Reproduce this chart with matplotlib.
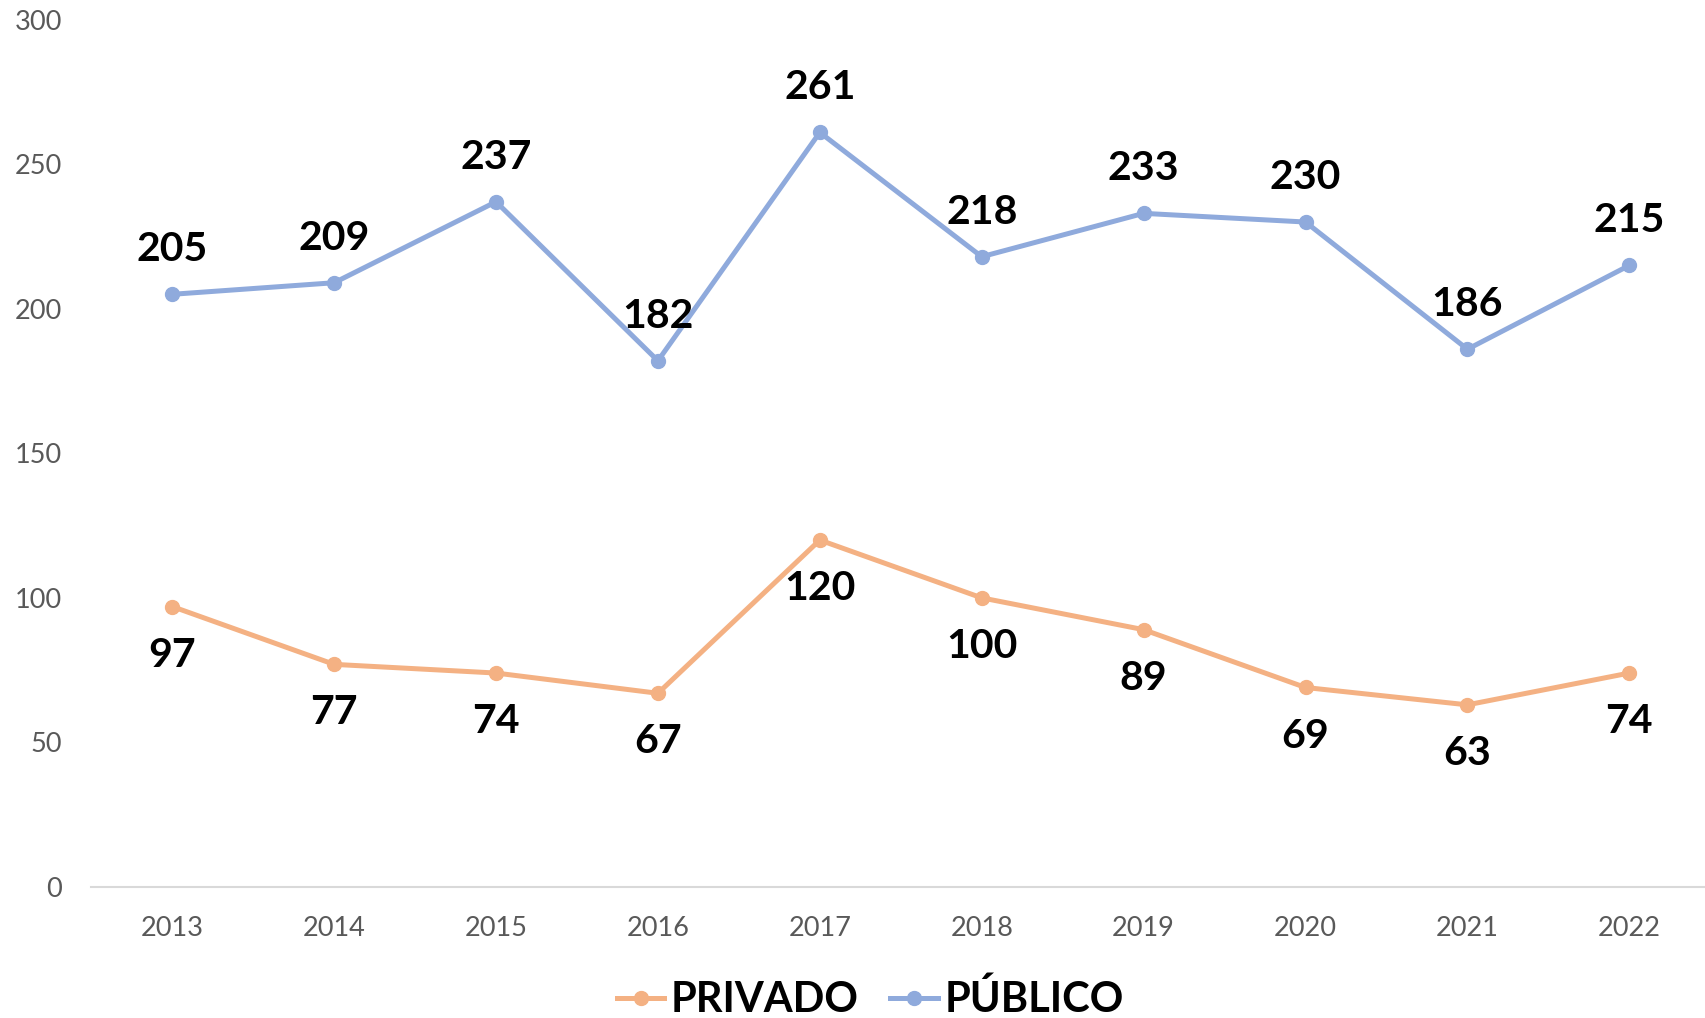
import matplotlib.pyplot as plt
from matplotlib.lines import Line2D

years = ['2013', '2014', '2015', '2016', '2017', '2018', '2019', '2020', '2021', '2022']
publico = [205, 209, 237, 182, 261, 218, 233, 230, 186, 215]
privado = [97, 77, 74, 67, 120, 100, 89, 69, 63, 74]

c_pub = '#8FAADC'
c_priv = '#F4B183'

plt.rcParams['font.family'] = ['Lato', 'DejaVu Sans']

fig = plt.figure(figsize=(17.06, 10.18), dpi=100)
ax = fig.add_axes([0.0535, 0.1287, 0.949, 0.852])

x = list(range(len(years)))
ax.plot(x, privado, color=c_priv, lw=3.6, marker='o', ms=10, solid_capstyle='round', label='PRIVADO')
ax.plot(x, publico, color=c_pub, lw=3.6, marker='o', ms=10, solid_capstyle='round', label='PÚBLICO')

for xi, v in zip(x, publico):
    ax.annotate(str(v), (xi, v), xytext=(0, 32), textcoords='offset points',
                ha='center', va='center', fontsize=29.5, fontweight='bold', color='black')
for xi, v in zip(x, privado):
    ax.annotate(str(v), (xi, v), xytext=(0, -35), textcoords='offset points',
                ha='center', va='center', fontsize=29.5, fontweight='bold', color='black')

ax.set_xlim(-0.5, 9.5)
ax.set_ylim(0, 300)
ax.set_yticks(range(0, 301, 50))
ax.set_xticks(x)
ax.set_xticklabels(years)
ax.tick_params(axis='both', length=0, labelsize=19.5, labelcolor='#595959')
ax.tick_params(axis='x', pad=21)
ax.tick_params(axis='y', pad=21)
for lab in ax.get_yticklabels():
    lab.set_horizontalalignment('right')

for s in ['left', 'right', 'top']:
    ax.spines[s].set_visible(False)
ax.spines['bottom'].set_color('#D9D9D9')
ax.spines['bottom'].set_linewidth(1.5)

handles = [Line2D([], [], color=c_priv, lw=3.6, marker='o', ms=10),
           Line2D([], [], color=c_pub, lw=3.6, marker='o', ms=10)]
fig.legend(handles, ['PRIVADO', 'PÚBLICO'], loc='center', bbox_to_anchor=(0.51, 0.018),
           ncol=2, frameon=False, prop={'size': 30, 'weight': 'bold'},
           handlelength=1.15, handletextpad=0.15, columnspacing=0.75)

fig.savefig('out.png', dpi=100)
